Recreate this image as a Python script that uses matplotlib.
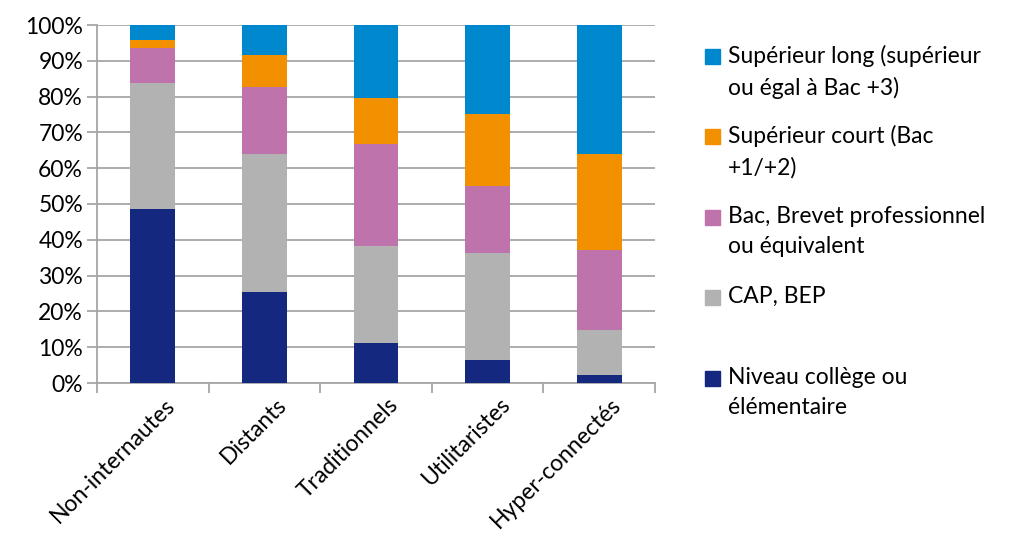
import numpy as np
import matplotlib.pyplot as plt
from matplotlib.patches import Rectangle
from matplotlib.ticker import PercentFormatter

plt.rcParams['font.family'] = ['Lato', 'DejaVu Sans']

categories = ['Non-internautes', 'Distants', 'Traditionnels', 'Utilitaristes', 'Hyper-connectés']
series = ['Niveau collège ou\nélémentaire', 'CAP, BEP', 'Bac, Brevet professionnel\nou équivalent',
          'Supérieur court (Bac\n+1/+2)', 'Supérieur long (supérieur\nou égal à Bac +3)']
college = [48.7, 25.5, 11.3, 6.4, 2.1]
cap_bep = [35.0, 38.6, 27.0, 30.0, 12.7]
bac = [9.9, 18.7, 28.5, 18.6, 22.4]
sup_court = [2.1, 8.9, 12.9, 20.2, 26.8]
sup_long = [4.3, 8.3, 20.3, 24.8, 36.0]
colors = ['#14287F', '#B2B2B2', '#BE73AD', '#F39000', '#0088CF']

values = [college, cap_bep, bac, sup_court, sup_long]
fs = 16.5

fig = plt.figure(figsize=(10.23, 5.54), dpi=100)
ax = fig.add_axes([97 / 1023, 1 - 383 / 554, 558 / 1023, 358 / 554])

x = np.arange(len(categories))
bottom = np.zeros(len(categories))
for vals, col in zip(values, colors):
    ax.bar(x, vals, width=0.4, bottom=bottom, color=col, zorder=3)
    bottom += np.array(vals)

ax.set_xlim(-0.5, len(categories) - 0.5)
ax.set_ylim(0, 100)
ax.set_yticks(np.arange(0, 101, 10))
ax.yaxis.set_major_formatter(PercentFormatter(decimals=0))
ax.grid(axis='y', color='#A6A6A6', linewidth=1.3, zorder=0)
ax.set_xticks(np.arange(-0.5, len(categories), 1))
ax.set_xticklabels([])
ax.set_xticks(x + 0.1, minor=True)
ax.set_xticklabels(categories, minor=True, rotation=45, ha='right', rotation_mode='anchor', fontsize=fs)
ax.tick_params(axis='x', which='minor', length=0, pad=8)
ax.tick_params(axis='x', which='major', length=7, color='#A6A6A6', width=1.3)
ax.tick_params(axis='y', length=7, color='#A6A6A6', width=1.3, labelsize=fs, pad=3)
for s in ['top', 'right']:
    ax.spines[s].set_visible(False)
for s in ['left', 'bottom']:
    ax.spines[s].set_color('#A6A6A6')
    ax.spines[s].set_linewidth(1.3)

# legend, drawn Excel style (square aligned with first line)
tops = [371, 290, 210, 129, 49]
for lab, col, t in zip(series, colors, tops):
    fig.add_artist(Rectangle((705 / 1023, 1 - (t + 15) / 554), 15 / 1023, 15 / 554,
                             transform=fig.transFigure, color=col))
    fig.text(728 / 1023, 1 - (t - 4) / 554, lab, fontsize=fs, va='top', ha='left', linespacing=1.55)

fig.savefig('out.png', dpi=100)
